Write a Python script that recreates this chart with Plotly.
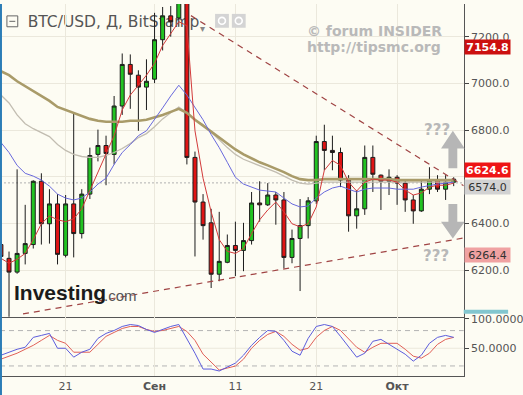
import plotly.graph_objects as go
import pandas as pd

W, H = 523, 395

# ---------------- data ----------------
dates = pd.date_range("2018-08-13", "2018-10-08", freq="D").strftime("%Y-%m-%d").tolist()

opens = [6310, 6251, 6192, 6272, 6310, 6581, 6399,
         6484, 6264, 6484, 6357, 6526, 6696, 6734,
         6696, 6903, 7081, 7035, 6984, 7018, 7187,
         7289, 7280, 7361, 6683, 6492, 6403, 6183,
         6234, 6306, 6285, 6327, 6488, 6480, 6522,
         6501, 6255, 6336, 6391, 6497, 6751, 6713,
         6704, 6586, 6433, 6463, 6683, 6607, 6581,
         6598, 6573, 6501, 6454, 6547, 6586, 6547,
         6577]
highs = [6322, 6280, 6632, 6480, 6585, 6615, 6547,
         6526, 6522, 6874, 6547, 6725, 6802, 6776,
         6946, 7128, 7124, 7056, 7103, 7302, 7327,
         7331, 7410, 7390, 6708, 6526, 6463, 6450,
         6353, 6408, 6403, 6535, 6581, 6573, 6535,
         6535, 6374, 6505, 6513, 6776, 6823, 6776,
         6725, 6607, 6543, 6734, 6734, 6610, 6632,
         6607, 6590, 6522, 6590, 6641, 6607, 6607,
         6598]
lows = [6245, 5880, 6185, 6225, 6293, 6310, 6314,
        6225, 6255, 6255, 6336, 6505, 6666, 6564,
        6653, 6865, 6891, 6797, 6886, 7001, 7141,
        7200, 7242, 6653, 6259, 6331, 6124, 6153,
        6230, 6175, 6196, 6310, 6408, 6475, 6395,
        6208, 6230, 6111, 6336, 6484, 6628, 6628,
        6556, 6365, 6378, 6437, 6535, 6458, 6522,
        6480, 6450, 6399, 6450, 6526, 6535, 6501,
        6560]
closes = [6259, 6192, 6272, 6314, 6581, 6399, 6484,
          6268, 6484, 6357, 6526, 6691, 6734, 6700,
          6903, 7081, 7039, 6984, 7009, 7187, 7289,
          7264, 7361, 6683, 6492, 6391, 6183, 6238,
          6306, 6285, 6327, 6488, 6480, 6522, 6501,
          6255, 6336, 6391, 6497, 6751, 6713, 6704,
          6586, 6433, 6463, 6683, 6611, 6581, 6598,
          6573, 6501, 6454, 6547, 6586, 6547, 6577,
          6590]

ma_fast = [6251, 6230, 6247, 6272, 6331, 6399, 6433,
           6416, 6408, 6420, 6463, 6543, 6620, 6696,
           6776, 6886, 6950, 6992, 7035, 7086, 7162,
           7213, 7264, 7247, 6797, 6594, 6450, 6331,
           6281, 6272, 6293, 6357, 6416, 6458, 6492,
           6450, 6399, 6386, 6399, 6471, 6628, 6670,
           6649, 6577, 6539, 6577, 6590, 6586, 6586,
           6577, 6543, 6522, 6531, 6556, 6564, 6564,
           6573]
ma_mid = [6747, 6704, 6649, 6615, 6603, 6586, 6560,
          6526, 6509, 6501, 6509, 6535, 6569, 6594,
          6653, 6704, 6738, 6776, 6797, 6844, 6895,
          6946, 6992, 6950, 6895, 6844, 6781, 6725,
          6662, 6598, 6569, 6556, 6543, 6539, 6535,
          6509, 6484, 6471, 6475, 6509, 6535, 6552,
          6560, 6547, 6535, 6547, 6552, 6552, 6552,
          6547, 6547, 6547, 6556, 6564, 6569, 6573,
          6577]
ma_slow = [7052, 7035, 7009, 6988, 6967, 6946, 6925,
           6899, 6886, 6874, 6861, 6848, 6840, 6836,
           6836, 6836, 6840, 6840, 6844, 6853, 6865,
           6878, 6891, 6874, 6844, 6819, 6793, 6768,
           6742, 6717, 6696, 6679, 6662, 6649, 6636,
           6620, 6603, 6590, 6586, 6586, 6590, 6590,
           6590, 6590, 6590, 6590, 6590, 6590, 6590,
           6586, 6586, 6586, 6586, 6586, 6586, 6586,
           6586]
ma_slow2 = [6950, 6916, 6865, 6827, 6806, 6789, 6772,
            6738, 6713, 6696, 6687, 6683, 6683, 6692,
            6704, 6721, 6742, 6768, 6785, 6814, 6848,
            6874, 6899, 6874, 6844, 6823, 6793, 6759,
            6725, 6696, 6675, 6662, 6649, 6636, 6620,
            6603, 6586, 6573, 6569, 6573, 6577, 6577,
            6577, 6577, 6577, 6577, 6577, 6577, 6577,
            6577, 6577, 6577, 6577, 6577, 6577, 6577,
            6577]

stoch_k = [38.2, 43.3, 48.3, 51.7, 68.5, 71.8, 75.2,
           50.0, 50.0, 34.9, 43.3, 48.3, 66.8, 75.2,
           80.2, 87.0, 90.3, 88.6, 81.9, 76.9, 81.9,
           87.0, 90.3, 66.8, 41.6, 14.7, 14.7, 11.4,
           18.1, 24.8, 38.2, 55.0, 68.5, 80.2, 78.6,
           63.4, 45.0, 38.2, 66.8, 87.0, 90.3, 87.0,
           70.2, 51.7, 34.9, 41.6, 61.8, 65.1, 56.7,
           48.3, 39.9, 28.2, 38.2, 58.4, 68.5, 71.8,
           68.5]
stoch_d = [31.5, 36.6, 41.6, 48.3, 55.0, 63.4, 71.8,
           63.4, 58.4, 43.3, 43.3, 43.3, 56.7, 70.2,
           76.9, 83.6, 87.0, 87.0, 81.9, 78.6, 80.2,
           83.6, 87.0, 78.6, 63.4, 40.0, 26.5, 13.0,
           16.4, 19.8, 31.5, 50.0, 63.4, 73.5, 78.6,
           70.2, 56.7, 46.6, 50.0, 68.5, 80.2, 87.0,
           80.2, 66.8, 51.7, 43.3, 51.7, 58.4, 58.4,
           58.4, 48.3, 36.6, 33.2, 41.6, 56.7, 65.1,
           68.5]

tick_dates = ["2018-08-21", "2018-09-01", "2018-09-11", "2018-09-21", "2018-10-01"]
tick_text = ["21", "<b>Сен</b>", "11", "21", "<b>Окт</b>"]
price_ticks = [6200, 6400, 6600, 6800, 7000, 7200]
price_tick_text = ["6200.0", "6400.0", "", "6800.0", "7000.0", "7200.0"]  # 6600 hidden under labels
stoch_ticks = [50, 100]
stoch_levels = [20, 80]

upper_trend_x = ["2018-09-05 12:00", "2018-10-09 05:43"]
upper_trend_y = [7290, 6562]
lower_trend_x = ["2018-08-15 17:30", "2018-10-09 05:43"]
lower_trend_y = [6013, 6338]
last_price = 6574.0

price_labels = [  # value, bg, text colour, bold, pixel shift
    (7154.8, "#cc1010", "#ffffff", True, 0),
    (6624.6, "#ee1414", "#ffffff", True, 1),
    (6574.0, "#d2d2d2", "#333333", False, -4),
    (6264.4, "#f0a2a2", "#333333", False, 0),
]

# ---------------- helpers (pixel -> paper) ----------------
def px(x):
    return x / W

def py(y):
    return 1 - y / H

BG = "#fdfcf3"
GRID = "#ebe8dc"
AXC = "#555555"
FONT = "DejaVu Sans"
XR = ["2018-08-12 21:14", "2018-10-09 05:43"]

fig = go.Figure()

fig.add_trace(go.Candlestick(
    x=dates, open=opens, high=highs, low=lows, close=closes,
    xaxis="x", yaxis="y",
    increasing=dict(fillcolor="#22c322", line=dict(color="#1c1c1c", width=1)),
    decreasing=dict(fillcolor="#e01414", line=dict(color="#1c1c1c", width=1)),
    whiskerwidth=0, hoverinfo="skip", showlegend=False))

fig.add_trace(go.Scatter(x=dates, y=ma_slow2, mode="lines", xaxis="x", yaxis="y",
                         line=dict(color="#c2bdb1", width=1.3), hoverinfo="skip", showlegend=False))
fig.add_trace(go.Scatter(x=dates, y=ma_slow, mode="lines", xaxis="x", yaxis="y",
                         line=dict(color="#a99b69", width=2.6), hoverinfo="skip", showlegend=False))
fig.add_trace(go.Scatter(x=dates, y=ma_mid, mode="lines", xaxis="x", yaxis="y",
                         line=dict(color="#6868dc", width=1), hoverinfo="skip", showlegend=False))
fig.add_trace(go.Scatter(x=dates, y=ma_fast, mode="lines", xaxis="x", yaxis="y",
                         line=dict(color="#d23a3a", width=1), hoverinfo="skip", showlegend=False))

fig.add_trace(go.Scatter(x=upper_trend_x, y=upper_trend_y, mode="lines", xaxis="x", yaxis="y",
                         line=dict(color="#a04444", width=1.2, dash="6px,5px"),
                         hoverinfo="skip", showlegend=False))
fig.add_trace(go.Scatter(x=lower_trend_x, y=lower_trend_y, mode="lines", xaxis="x", yaxis="y",
                         line=dict(color="#a04444", width=1.2, dash="6px,5px"),
                         hoverinfo="skip", showlegend=False))

fig.add_trace(go.Scatter(x=dates, y=stoch_d, mode="lines", xaxis="x2", yaxis="y2",
                         line=dict(color="#e06058", width=1), hoverinfo="skip", showlegend=False))
fig.add_trace(go.Scatter(x=dates, y=stoch_k, mode="lines", xaxis="x2", yaxis="y2",
                         line=dict(color="#5c5cdc", width=1), hoverinfo="skip", showlegend=False))

shapes = []
# last price dotted line
shapes.append(dict(type="line", xref="paper", yref="y", x0=0, x1=px(470), y0=last_price, y1=last_price,
                   line=dict(color="#b0b0b0", width=1, dash="2px,2px"), layer="below"))
# stochastic levels
for lv in stoch_levels:
    shapes.append(dict(type="line", xref="paper", yref="y2", x0=0, x1=px(470), y0=lv, y1=lv,
                       line=dict(color="#b4b4b4", width=1, dash="5px,4px"), layer="below"))
shapes.append(dict(type="line", xref="paper", yref="y2", x0=0, x1=px(470), y0=50, y1=50,
                   line=dict(color=GRID, width=1), layer="below"))
# title (below candles)
shapes.append(dict(type="rect", xref="paper", yref="paper", x0=px(24), x1=px(215), y0=py(27), y1=py(7),
                   line=dict(width=0), fillcolor="rgba(0,0,0,0)", layer="below",
                   label=dict(text="BTC/USD, Д, BitStamp", textposition="middle left", padding=1,
                              font=dict(family=FONT, size=15.5, color="#555555"))))
# collapse icon
shapes.append(dict(type="rect", xref="paper", yref="paper", x0=px(7), x1=px(18), y0=py(23), y1=py(12),
                   line=dict(color="#666666", width=1), fillcolor="rgba(0,0,0,0)"))
shapes.append(dict(type="line", xref="paper", yref="paper", x0=px(9.5), x1=px(15.5), y0=py(17.5), y1=py(17.5),
                   line=dict(color="#666666", width=1)))
# eye / gear icons
for x0 in (218, 235):
    shapes.append(dict(type="rect", xref="paper", yref="paper", x0=px(x0), x1=px(x0 + 14), y0=py(24), y1=py(10),
                       line=dict(width=0), fillcolor="#d4d4d4"))
    shapes.append(dict(type="circle", xref="paper", yref="paper", x0=px(x0 + 3.5), x1=px(x0 + 10.5),
                       y0=py(20.5), y1=py(13.5), line=dict(color="#ffffff", width=1.6),
                       fillcolor="rgba(0,0,0,0)"))
# up / down arrows
C = 459
up = (f"M {px(C-4.5)} {py(166)} L {px(C+4.5)} {py(166)} L {px(C+4.5)} {py(146)} L {px(C+12)} {py(146)} "
      f"L {px(C)} {py(128)} L {px(C-12)} {py(146)} L {px(C-4.5)} {py(146)} Z")
down = (f"M {px(C-4.5)} {py(202)} L {px(C+4.5)} {py(202)} L {px(C+4.5)} {py(220)} L {px(C+12)} {py(220)} "
        f"L {px(C)} {py(237)} L {px(C-12)} {py(220)} L {px(C-4.5)} {py(220)} Z")
for pth in (up, down):
    shapes.append(dict(type="path", xref="paper", yref="paper", path=pth,
                       fillcolor="#b6b6b6", line=dict(width=0)))
# teal marker on right scale
shapes.append(dict(type="rect", xref="paper", yref="paper", x0=px(470), x1=px(515), y0=py(313), y1=py(309),
                   fillcolor="#82c6cf", line=dict(width=0)))
# left window border
shapes.append(dict(type="rect", xref="paper", yref="paper", x0=0, x1=px(2), y0=0, y1=1,
                   fillcolor="#2c7db6", line=dict(width=0)))

annotations = []
for val, bg, fc, bold, shift in price_labels:
    txt = f"{val:.1f}"
    if bold:
        txt = f"<b>{txt}</b>"
    annotations.append(dict(xref="paper", yref="y", x=px(470), y=val, xanchor="left", yanchor="middle",
                            text=txt, showarrow=False, bgcolor=bg, width=43, height=12, borderpad=1,
                            align="center", yshift=shift,
                            font=dict(family=FONT, size=11, color=fc)))
annotations += [
    dict(xref="paper", yref="paper", x=px(205), y=py(17), text="▾", showarrow=False,
         font=dict(family=FONT, size=10, color="#888888")),
    dict(xref="paper", yref="paper", x=px(309), y=py(27), xanchor="left", yanchor="middle",
         text="<b>© forum INSIDER</b>", showarrow=False,
         font=dict(family=FONT, size=14, color="#b9b9b9")),
    dict(xref="paper", yref="paper", x=px(309), y=py(43), xanchor="left", yanchor="middle",
         text="<b>http://tipsmc.org</b>", showarrow=False,
         font=dict(family=FONT, size=14, color="#b9b9b9")),
    dict(xref="paper", yref="paper", x=px(12), y=py(291), xanchor="left", yanchor="middle",
         text="<b>Investing</b>", showarrow=False,
         font=dict(family="Liberation Sans", size=21, color="#1b1b1b")),
    dict(xref="paper", yref="paper", x=px(103), y=py(294), xanchor="left", yanchor="middle",
         text=".com", showarrow=False,
         font=dict(family="Liberation Sans", size=15, color="#555555")),
    dict(xref="paper", yref="paper", x=px(458), y=py(116), text="<b>???</b>", showarrow=False,
         font=dict(family=FONT, size=15, color="#b8b8b8")),
    dict(xref="paper", yref="paper", x=px(457), y=py(255), text="<b>???</b>", showarrow=False,
         font=dict(family=FONT, size=15, color="#b8b8b8")),
]

fig.update_layout(
    width=W, height=H, margin=dict(l=0, r=0, t=0, b=0),
    paper_bgcolor=BG, plot_bgcolor=BG, showlegend=False, hovermode=False,
    xaxis=dict(domain=[0, px(470)], range=XR, type="date", anchor="y",
               tickvals=tick_dates, showticklabels=False, ticks="",
               showgrid=True, gridcolor=GRID, gridwidth=1, zeroline=False,
               showline=True, linecolor=AXC, linewidth=1,
               rangeslider=dict(visible=False), fixedrange=True),
    yaxis=dict(domain=[py(316), 1], range=[6000.7, 7339.8], side="right", anchor="x",
               tickvals=price_ticks, ticktext=price_tick_text,
               ticks="outside", ticklen=4, tickcolor="#444444",
               showgrid=True, gridcolor=GRID, zeroline=False,
               showline=True, linecolor=AXC, linewidth=1,
               tickfont=dict(family=FONT, size=11, color="#555555")),
    xaxis2=dict(domain=[0, px(470)], range=XR, type="date", anchor="y2", matches="x",
                tickvals=tick_dates, ticktext=tick_text, ticks="",
                showgrid=True, gridcolor=GRID, zeroline=False,
                showline=True, linecolor=AXC, linewidth=1,
                tickfont=dict(family=FONT, size=11, color="#555555")),
    yaxis2=dict(domain=[py(376), py(316)], range=[2.6, 103.4], side="right", anchor="x2",
                tickvals=stoch_ticks, ticktext=["50.0000", "100.0000"],
                ticks="outside", ticklen=4, tickcolor="#444444",
                showgrid=False, zeroline=False,
                showline=True, linecolor=AXC, linewidth=1,
                tickfont=dict(family=FONT, size=11, color="#555555")),
    shapes=shapes, annotations=annotations,
)

fig.write_html("out.html")
